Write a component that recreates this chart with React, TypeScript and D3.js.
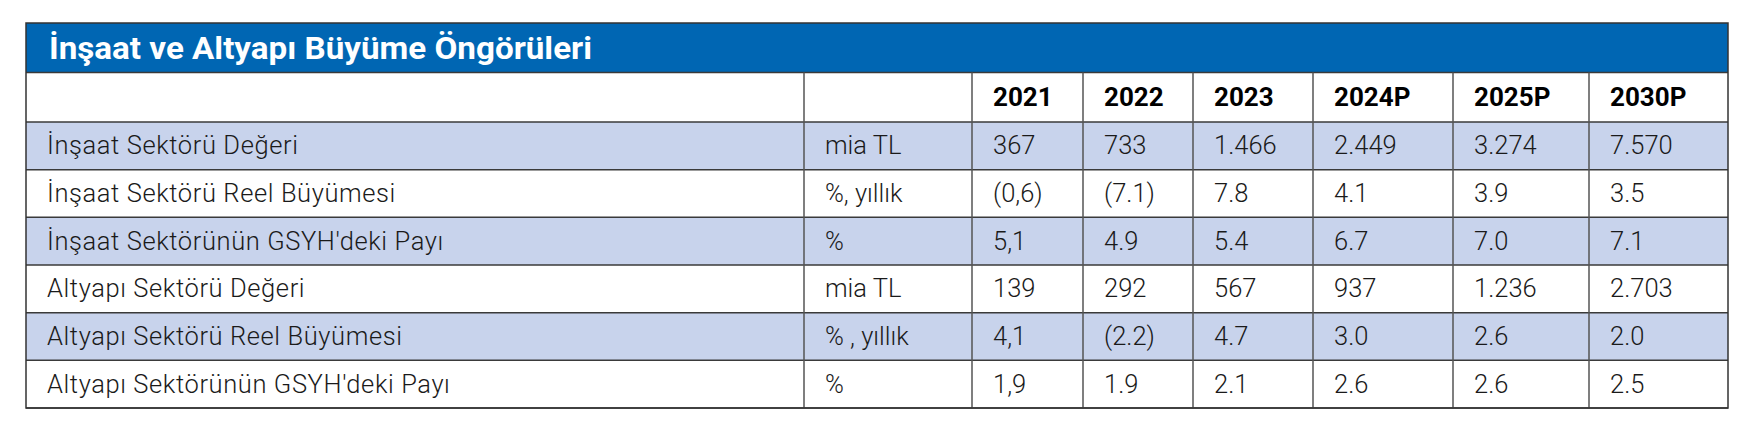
import React from "react";
import * as d3 from "d3";

const title = "İnşaat ve Altyapı Büyüme Öngörüleri";
const years = ["2021", "2022", "2023", "2024P", "2025P", "2030P"];
const rowLabels = [
  "İnşaat Sektörü Değeri",
  "İnşaat Sektörü Reel Büyümesi",
  "İnşaat Sektörünün GSYH'deki Payı",
  "Altyapı Sektörü Değeri",
  "Altyapı Sektörü Reel Büyümesi",
  "Altyapı Sektörünün GSYH'deki Payı",
];
const units = ["mia TL", "%, yıllık", "%", "mia TL", "% , yıllık", "%"];
const insaatDegeri = ["367", "733", "1.466", "2.449", "3.274", "7.570"];
const insaatBuyume = ["(0,6)", "(7.1)", "7.8", "4.1", "3.9", "3.5"];
const insaatPay = ["5,1", "4.9", "5.4", "6.7", "7.0", "7.1"];
const altyapiDegeri = ["139", "292", "567", "937", "1.236", "2.703"];
const altyapiBuyume = ["4,1", "(2.2)", "4.7", "3.0", "2.6", "2.0"];
const altyapiPay = ["1,9", "1.9", "2.1", "2.6", "2.6", "2.5"];
const values = [insaatDegeri, insaatBuyume, insaatPay, altyapiDegeri, altyapiBuyume, altyapiPay];

// layout
const W = 1749, H = 422;
const L = 26, R = 1728, T = 23, titleB = 72.5, headB = 122, B = 408;
const colWidths = [778, 168, 111, 110, 120, 140, 136, 139];
const colEdges = [L, ...d3.cumsum(colWidths).map((c) => L + c)];
const pad = 21;
const BLUE = "#0066b3";
const STRIPE = "#c8d3ec";
const FONT = "Roboto, 'Noto Sans', sans-serif";

export default function App() {
  const y = d3.scaleBand<number>().domain(d3.range(rowLabels.length)).range([headB, B]);
  const colX = (i: number) => colEdges[i];
  return (
    <svg width={W} height={H} style={{ position: "absolute", left: 0, top: 0 }} fontFamily={FONT}>
      <rect x={0} y={0} width={W} height={H} fill="#fff" />
      {/* title bar */}
      <rect x={L} y={T} width={R - L} height={titleB - T} fill={BLUE} />
      <text x={L + 23} y={(T + titleB) / 2 + 11} fill="#fff" fontSize={32} fontWeight={700}
        textLength={543} lengthAdjust="spacingAndGlyphs">
        {title}
      </text>
      {/* stripes */}
      {rowLabels.map((_, i) =>
        i % 2 === 0 ? (
          <rect key={"s" + i} x={L} y={y(i)!} width={R - L} height={y.bandwidth()} fill={STRIPE} />
        ) : null
      )}
      {/* horizontal lines */}
      {[titleB, headB, ...rowLabels.map((_, i) => y(i)! + y.bandwidth())].map((yy, i) => (
        <line key={"h" + i} x1={L} x2={R} y1={yy} y2={yy} stroke="#3a3a3a" strokeWidth={1.5} />
      ))}
      {/* vertical lines */}
      {colEdges.slice(1, -1).map((xx, i) => (
        <line key={"v" + i} x1={xx} x2={xx} y1={titleB} y2={B} stroke="#555" strokeWidth={1.5} />
      ))}
      {/* outer border */}
      <rect x={L} y={T} width={R - L} height={B - T} fill="none" stroke="#333" strokeWidth={1.5} />
      {/* header */}
      {years.map((yr, j) => (
        <text key={"y" + j} x={colX(j + 2) + pad} y={(titleB + headB) / 2 + 9} fontSize={26} fontWeight={700} fill="#000">
          {yr}
        </text>
      ))}
      {/* rows */}
      {rowLabels.map((lab, i) => {
        const cy = y(i)! + y.bandwidth() / 2 + 8.5;
        return (
          <g key={"r" + i} fill="#1a1a1a" fontSize={25.5} fontWeight={300}>
            <text x={colX(0) + pad} y={cy} letterSpacing={0.6}>{lab}</text>
            <text x={colX(1) + pad} y={cy}>{units[i]}</text>
            {values[i].map((v, j) => (
              <text key={j} x={colX(j + 2) + pad} y={cy}>{v}</text>
            ))}
          </g>
        );
      })}
    </svg>
  );
}
